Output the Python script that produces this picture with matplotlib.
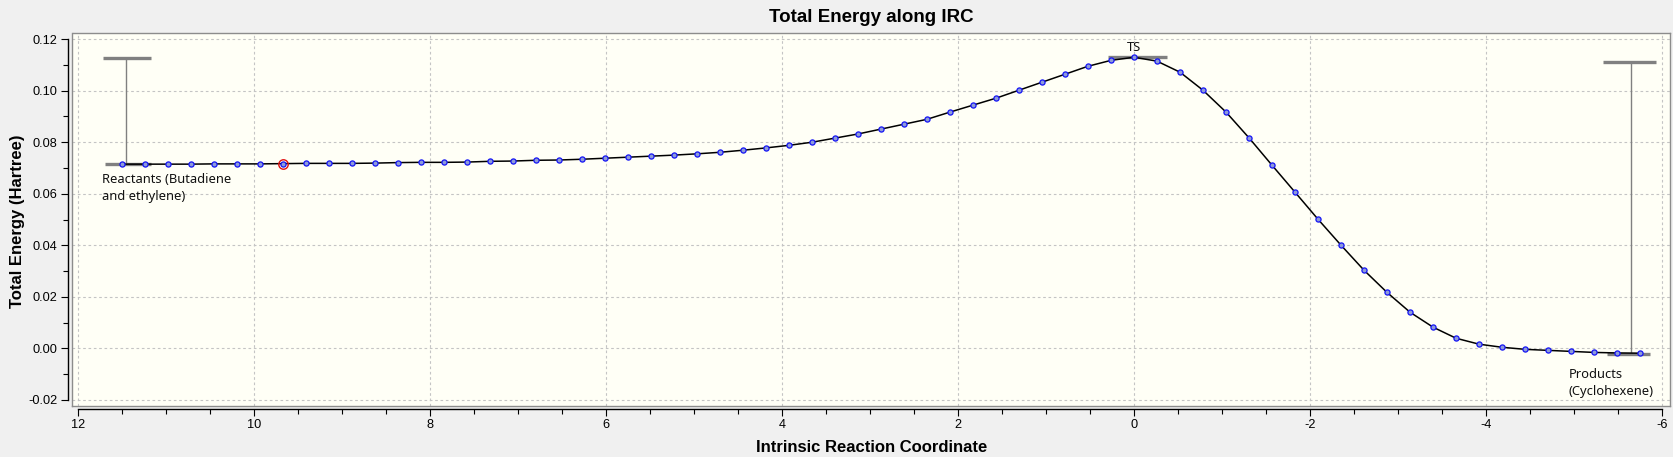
import matplotlib
matplotlib.use("Agg")
import matplotlib.pyplot as plt
from matplotlib.ticker import MultipleLocator, FormatStrFormatter

# ---------------- data ----------------
irc_coord = [11.502, 11.240, 10.979, 10.717, 10.456, 10.195, 9.933, 9.672, 9.410, 9.149,
             8.888, 8.626, 8.365, 8.103, 7.842, 7.581, 7.319, 7.058, 6.796, 6.535,
             6.274, 6.012, 5.751, 5.489, 5.228, 4.967, 4.705, 4.444, 4.182, 3.921,
             3.660, 3.398, 3.137, 2.875, 2.614, 2.353, 2.091, 1.830, 1.568, 1.307,
             1.046, 0.784, 0.523, 0.261, 0.000,
             -0.261, -0.523, -0.784, -1.046, -1.307, -1.568, -1.830, -2.091, -2.353, -2.614,
             -2.875, -3.137, -3.398, -3.660, -3.921, -4.182, -4.444, -4.705, -4.967, -5.228,
             -5.489, -5.751]
total_energy = [0.0715, 0.0715, 0.0715, 0.0715, 0.0716, 0.0716, 0.0716, 0.0717, 0.0718, 0.0718,
                0.0718, 0.0719, 0.0721, 0.0722, 0.0722, 0.0723, 0.0726, 0.0727, 0.0730, 0.0731,
                0.0734, 0.0738, 0.0742, 0.0746, 0.0750, 0.0755, 0.0761, 0.0769, 0.0778, 0.0788,
                0.0800, 0.0816, 0.0832, 0.0851, 0.0870, 0.0889, 0.0917, 0.0944, 0.0971, 0.1002,
                0.1033, 0.1064, 0.1095, 0.1118, 0.1130,
                0.1115, 0.1072, 0.1002, 0.0917, 0.0817, 0.0711, 0.0606, 0.0501, 0.0400, 0.0303,
                0.0217, 0.0140, 0.0082, 0.0039, 0.0016, 0.0004, -0.0004, -0.0008, -0.0012, -0.0016,
                -0.0018, -0.0019]
current_point = 7  # highlighted (red) point index

# energy brackets: (x_left, x_right, x_line, E_low, E_high)
reactant_bracket = [11.716, 11.17, 11.455, 0.0715, 0.1129]
reactant_low_bar = [11.69, 11.17]
product_bracket = [-5.332, -5.926, -5.645, -0.0022, 0.1111]
product_low_bar = [-5.369, -5.858]
ts_bar = [0.29, -0.377, 0.1131]

title = "Total Energy along IRC"
xlabel = "Intrinsic Reaction Coordinate"
ylabel = "Total Energy (Hartree)"
reactant_label = "Reactants (Butadiene\nand ethylene)"
product_label = "Products\n(Cyclohexene)"
ts_label = "TS"

# ---------------- figure ----------------
W, H = 1674, 457
fig = plt.figure(figsize=(W / 100, H / 100), dpi=100, facecolor="#F0F0F0")
ax_l, ax_r, ax_t, ax_b = 72.5, 1670, 33.3, 406
ax = fig.add_axes([ax_l / W, 1 - ax_b / H, (ax_r - ax_l) / W, (ax_b - ax_t) / H])
ax.set_facecolor("#FFFFF6")

ax.set_xlim(12.06, -6.09)
ax.set_ylim(-0.0224, 0.1223)

ax.xaxis.set_major_locator(MultipleLocator(2))
ax.xaxis.set_minor_locator(MultipleLocator(0.5))
ax.yaxis.set_major_locator(MultipleLocator(0.02))
ax.yaxis.set_minor_locator(MultipleLocator(0.01))
ax.xaxis.set_major_formatter(FormatStrFormatter("%d"))
ax.yaxis.set_major_formatter(FormatStrFormatter("%.2f"))

ax.set_axisbelow(True)
ax.grid(True, which="major", color="#C4C4C4", linestyle=(0, (2.4, 2.4)), linewidth=0.8)

# spines: gray frame + offset black axis lines
frame_col = "#8C8C8C"
for s in ("top", "right"):
    ax.spines[s].set_color(frame_col)
    ax.spines[s].set_linewidth(1.0)
for s in ("left", "bottom"):
    ax.spines[s].set_color("black")
    ax.spines[s].set_linewidth(1.0)
ax.spines["left"].set_position(("outward", 2.9))
ax.spines["bottom"].set_position(("outward", 1.8))
ax.spines["left"].set_bounds(-0.02, 0.12)
ax.spines["bottom"].set_bounds(-6, 12)
ax.plot([0, 0], [0, 1], transform=ax.transAxes, color=frame_col, lw=1.0, clip_on=False, zorder=6)
ax.plot([0, 1], [0, 0], transform=ax.transAxes, color=frame_col, lw=1.0, clip_on=False, zorder=6)

ax.tick_params(which="major", direction="out", length=4.8, width=0.8, color="black", pad=3.0)
ax.tick_params(which="minor", direction="out", length=3.4, width=0.8, color="black")
for lab in ax.get_xticklabels() + ax.get_yticklabels():
    lab.set_fontfamily("Liberation Sans")
    lab.set_fontsize(9.2)

# curve and points
ax.plot(irc_coord, total_energy, color="black", lw=1.1, zorder=3)
ax.plot(irc_coord, total_energy, ls="none", marker="o", ms=3.7,
        mfc="#8E9BD8", mec="#1414F5", mew=0.9, zorder=4)
ax.plot(irc_coord[current_point], total_energy[current_point], ls="none", marker="o", ms=6.8,
        mfc="none", mec="#E01010", mew=1.0, zorder=5)

# brackets
gray = "#808080"
ax.hlines(reactant_bracket[4], reactant_bracket[0], reactant_bracket[1], color=gray, lw=2.4, zorder=2)
ax.hlines(reactant_bracket[3], reactant_low_bar[0], reactant_low_bar[1], color=gray, lw=2.4, zorder=2)
ax.vlines(reactant_bracket[2], reactant_bracket[3], reactant_bracket[4], color=gray, lw=1.0, zorder=2)
ax.hlines(product_bracket[4], product_bracket[0], product_bracket[1], color=gray, lw=2.4, zorder=2)
ax.hlines(product_bracket[3], product_low_bar[0], product_low_bar[1], color=gray, lw=2.4, zorder=2)
ax.vlines(product_bracket[2], product_bracket[3], product_bracket[4], color=gray, lw=1.0, zorder=2)
ax.hlines(ts_bar[2], ts_bar[0], ts_bar[1], color=gray, lw=2.4, zorder=2)

ann_font = dict(family="Noto Sans", size=9.3, color="#111111")
ax.text(11.73, 0.0623, reactant_label, ha="left", va="center", linespacing=1.45, **ann_font)
ax.text(-4.934, -0.0136, product_label, ha="left", va="center", linespacing=1.4, **ann_font)
ax.text(0.0, 0.1169, ts_label, ha="center", va="center", **ann_font)

# titles
cx = (ax_l + ax_r) / 2 / W
fig.text(cx, 1 - 21.7 / H, title, ha="center", va="baseline",
         family="Liberation Sans", fontweight="bold", fontsize=13.5)
fig.text(cx, 1 - 452.3 / H, xlabel, ha="center", va="baseline",
         family="Liberation Sans", fontweight="bold", fontsize=12)
fig.text(17.5 / W, 1 - 221 / H, ylabel, ha="center", va="center", rotation=90,
         family="Liberation Sans", fontweight="bold", fontsize=12)

fig.savefig("out.png", dpi=100, facecolor=fig.get_facecolor())
